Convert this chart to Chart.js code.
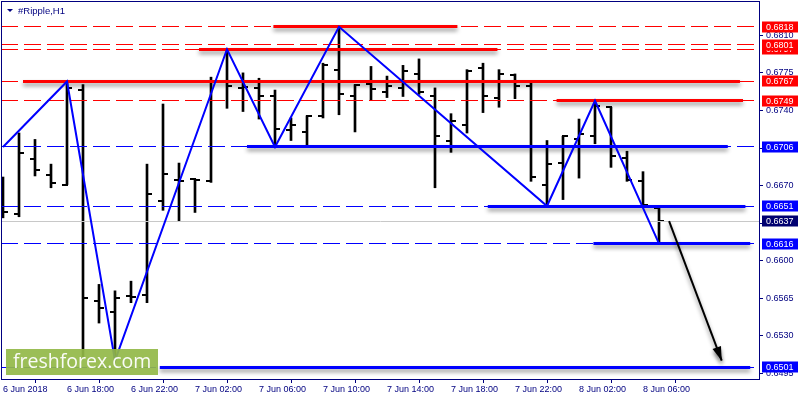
<!DOCTYPE html>
<html><head><meta charset="utf-8">
<script src="https://cdn.jsdelivr.net/npm/chart.js@4.4.1/dist/chart.umd.min.js"></script>
<style>html,body{margin:0;padding:0;background:#fff;}canvas{display:block;}</style>
</head><body>
<canvas id="c" width="800" height="400"></canvas>
<script>
// ---------- data ----------
const symbolTitle = '#Ripple,H1';
const timeLabels = [
 '6 Jun 14:00','6 Jun 15:00','6 Jun 16:00','6 Jun 17:00','6 Jun 18:00','6 Jun 19:00','6 Jun 20:00','6 Jun 21:00','6 Jun 22:00','6 Jun 23:00',
 '7 Jun 00:00','7 Jun 01:00','7 Jun 02:00','7 Jun 03:00','7 Jun 04:00','7 Jun 05:00','7 Jun 06:00','7 Jun 07:00','7 Jun 08:00','7 Jun 09:00',
 '7 Jun 10:00','7 Jun 11:00','7 Jun 12:00','7 Jun 13:00','7 Jun 14:00','7 Jun 15:00','7 Jun 16:00','7 Jun 17:00','7 Jun 18:00','7 Jun 19:00',
 '7 Jun 20:00','7 Jun 21:00','7 Jun 22:00','7 Jun 23:00',
 '8 Jun 00:00','8 Jun 01:00','8 Jun 02:00','8 Jun 03:00','8 Jun 04:00','8 Jun 05:00','8 Jun 06:00','8 Jun 07:00'
];
const axisTickIdx = [0,4,8,12,16,20,24,28,32,36,40];
const axisTickLabels = ['6 Jun 2018','6 Jun 18:00','6 Jun 22:00','7 Jun 02:00','7 Jun 06:00','7 Jun 10:00','7 Jun 14:00','7 Jun 18:00','7 Jun 22:00','8 Jun 02:00','8 Jun 06:00'];
const yTickValues = [0.6495,0.6530,0.6565,0.6600,0.6635,0.6670,0.6705,0.6740,0.6775,0.6810];

const opens  = [0.6646,0.6644,0.6695,0.6680,0.6671,0.6759,0.6563,0.6552,0.6567,0.6568,
                0.6656,0.6675,0.6676,0.6674,0.6767,0.6761,0.6761,0.6753,0.6722,0.6720,
                0.6735,0.6778,0.6753,0.6765,0.6757,0.6761,0.6774,0.6753,0.6712,0.6726,
                0.6780,0.6752,0.6773,0.6763,0.6671,0.6691,0.6713,0.6716,0.6743,0.6696,
                0.6674,0.6649];
const highs  = [0.6678,0.6719,0.6713,0.6690,0.6767,0.6764,0.6578,0.6572,0.6581,0.6690,
                0.6746,0.6691,0.6676,0.6771,0.6797,0.6775,0.6770,0.6759,0.6733,0.6735,
                0.6784,0.6818,0.6764,0.6781,0.6772,0.6782,0.6788,0.6761,0.6737,0.6778,
                0.6784,0.6778,0.6774,0.6768,0.6712,0.6716,0.6732,0.6749,0.6743,0.6702,
                0.6683,0.6649];
const lows   = [0.6640,0.6641,0.6679,0.6668,0.6671,0.6510,0.6542,0.6507,0.6561,0.6561,
                0.6647,0.6637,0.6645,0.6673,0.6742,0.6739,0.6732,0.6706,0.6712,0.6706,
                0.6733,0.6736,0.6720,0.6750,0.6752,0.6753,0.6755,0.6668,0.6701,0.6719,
                0.6738,0.6743,0.6751,0.6674,0.6651,0.6657,0.6677,0.6709,0.6687,0.6674,
                0.6651,0.6616];
const closes = [0.6645,0.6700,0.6685,0.6672,0.6761,0.6565,0.6556,0.6565,0.6566,0.6662,
                0.6681,0.6674,0.6675,0.6767,0.6763,0.6762,0.6753,0.6723,0.6726,0.6735,
                0.6782,0.6755,0.6764,0.6760,0.6763,0.6777,0.6757,0.6716,0.6730,0.6777,
                0.6753,0.6774,0.6763,0.6678,0.6690,0.6716,0.6718,0.6744,0.6698,0.6675,
                0.6652,0.6637];

const zigzagIdx   = [0,4,7,14,17,21,34,37,41];
const zigzagPrice = [0.6706,0.6767,0.6507,0.6797,0.6706,0.6818,0.6651,0.6749,0.6616];

const resistanceLevels = [0.6818,0.6801,0.6797,0.6767,0.6749];
const supportLevels    = [0.6706,0.6651,0.6616,0.6501];
const bidPrice = 0.6637;

const redSegLevel  = [0.6767,0.6797,0.6818,0.6749];
const redSegFrom   = [1.25,12.25,16.9,34.6];
const redSegTo     = [46.06,30.9,28.4,46.25];
const blueSegLevel = [0.6706,0.6651,0.6616,0.6501];
const blueSegFrom  = [15.25,30.3,36.9,9.8];
const blueSegTo    = [45.3,46.4,46.7,46.7];

const arrowIdx   = [41.63,44.92];
const arrowPrice = [0.6637,0.6507];

const labelLevels = [0.6818,0.6797,0.6801,0.6767,0.6749,0.6706,0.6651,0.6637,0.6616,0.6501];
const labelKinds  = ['r','r','r','r','r','b','b','k','b','b'];

// ---------- chart ----------
const X_MIN = -0.125, X_MAX = 47.3125;
const Y_MIN = 0.648989, Y_MAX = 0.684194;
const NAVY = '#000080';
const FONT = 'Liberation Sans';

function tickImg(side){
  const c=document.createElement('canvas'); c.width=10; c.height=2;
  const g=c.getContext('2d'); g.fillStyle='#000';
  if(side==='l') g.fillRect(0,0,6,2); else g.fillRect(4,0,6,2);
  return c;
}

const datasets = [];
const full = (y)=>[{x:X_MIN,y},{x:X_MAX,y}];
resistanceLevels.forEach(v=>datasets.push({type:'line',data:full(v),borderColor:'#ff0000',borderWidth:1,borderDash:[17,6],pointRadius:0,order:6,crisp:true}));
supportLevels.forEach(v=>datasets.push({type:'line',data:full(v),borderColor:'#0000ff',borderWidth:1,borderDash:[17,6],pointRadius:0,order:6,crisp:true}));
datasets.push({type:'line',data:full(bidPrice),borderColor:'#c8c8c8',borderWidth:1,pointRadius:0,order:6,crisp:true});

datasets.push({type:'bar',data:highs.map((h,i)=>({x:i,y:[lows[i],h]})),backgroundColor:'#000',borderWidth:0,barThickness:2,order:10});
datasets.push({type:'scatter',data:opens.map((o,i)=>({x:i,y:o})),pointStyle:tickImg('l'),pointRadius:5,order:9});
datasets.push({type:'scatter',data:closes.map((c,i)=>({x:i,y:c})),pointStyle:tickImg('r'),pointRadius:5,order:9});

redSegLevel.forEach((v,k)=>datasets.push({type:'line',data:[{x:redSegFrom[k],y:v},{x:redSegTo[k],y:v}],borderColor:'#ff0000',borderWidth:3,pointRadius:0,shadow:true,crisp:true,order:3}));
blueSegLevel.forEach((v,k)=>datasets.push({type:'line',data:[{x:blueSegFrom[k],y:v},{x:blueSegTo[k],y:v}],borderColor:'#0000ff',borderWidth:3,pointRadius:0,shadow:true,crisp:true,order:3}));

datasets.push({type:'line',data:zigzagIdx.map((x,k)=>({x,y:zigzagPrice[k]})),borderColor:'#0000ff',borderWidth:2,pointRadius:0,tension:0,order:2});
datasets.push({type:'line',data:arrowIdx.map((x,k)=>({x,y:arrowPrice[k]})),borderColor:'#000',borderWidth:2,pointRadius:0,shadow:true,arrowHead:true,order:1});

const fx = {
  id:'fx',
  beforeDatasetDraw(chart,args){
    const ds=chart.data.datasets[args.index]; const c=chart.ctx;
    c.save();
    if(ds.shadow){c.shadowColor='rgba(0,0,0,0.45)';c.shadowBlur=4;c.shadowOffsetX=0;c.shadowOffsetY=3;}
    else {c.shadowColor='rgba(0,0,0,0)';c.shadowBlur=0;c.shadowOffsetX=0;c.shadowOffsetY=0;}
    if(ds.crisp){ args.meta.data.forEach(p=>{ p.y = Math.floor(p.y)+0.5; }); }
  },
  afterDatasetDraw(chart,args){
    const ds=chart.data.datasets[args.index]; const c=chart.ctx;
    if(ds.arrowHead){
      const a=args.meta.data[0], b=args.meta.data[1];
      const ang=Math.atan2(b.y-a.y,b.x-a.x), L=14, W=4.5;
      const bx=b.x-L*Math.cos(ang), by=b.y-L*Math.sin(ang);
      c.beginPath(); c.moveTo(b.x,b.y);
      c.lineTo(bx+W*Math.sin(ang), by-W*Math.cos(ang));
      c.lineTo(bx-W*Math.sin(ang), by+W*Math.cos(ang));
      c.closePath(); c.fillStyle='#000'; c.fill();
    }
    c.restore();
  },
  afterDraw(chart){
    const c=chart.ctx, ca=chart.chartArea, ys=chart.scales.y;
    c.save();
    c.shadowColor='rgba(0,0,0,0)'; c.shadowBlur=0;
    // frame
    c.strokeStyle=NAVY; c.lineWidth=1;
    c.strokeRect(ca.left+0.5, ca.top+0.5, ca.right-ca.left-1, ca.bottom-ca.top);
    // watermark
    c.fillStyle='rgba(146,184,72,0.92)'; c.fillRect(6,349,152,26);
    c.fillStyle='rgba(255,255,255,0.95)'; c.font='19.5px "Open Sans"'; c.textBaseline='alphabetic'; c.textAlign='left';
    c.fillText('freshforex.com',13,368);
    // title
    c.fillStyle=NAVY; c.beginPath(); c.moveTo(7,9); c.lineTo(13,9); c.lineTo(10,12); c.closePath(); c.fill();
    c.font='9.5px "'+FONT+'"'; c.textBaseline='middle'; c.fillText(symbolTitle,18,11);
    // price labels
    labelLevels.forEach((v,k)=>{
      const y=Math.round(ys.getPixelForValue(v));
      c.fillStyle = labelKinds[k]==='r' ? '#ff0000' : labelKinds[k]==='b' ? '#0000ff' : '#000070';
      c.fillRect(ca.right+2, y-5.5, 36, 11);
      c.fillStyle='#fff'; c.font='9px "'+FONT+'"'; c.textBaseline='middle'; c.textAlign='left';
      c.fillText(v.toFixed(4), ca.right+6, y+0.5);
    });
    c.restore();
  }
};

new Chart(document.getElementById('c'), {
  type:'line',
  data:{datasets},
  options:{
    responsive:false, animation:false, devicePixelRatio:1, events:[],
    layout:{autoPadding:false,padding:{left:1,top:1,right:0,bottom:0}},
    plugins:{legend:{display:false},tooltip:{enabled:false},title:{display:false}},
    scales:{
      x:{type:'linear',position:'bottom',min:X_MIN,max:X_MAX,offset:false,
         afterBuildTicks:(s)=>{s.ticks=axisTickIdx.map(v=>({value:v}));},
         afterFit:(s)=>{s.height=21;s.paddingLeft=0;s.paddingRight=0;},
         grid:{drawOnChartArea:false,drawTicks:true,tickLength:4,color:NAVY},
         border:{display:false},
         ticks:{align:'start',autoSkip:false,maxRotation:0,minRotation:0,padding:1,color:NAVY,font:{family:FONT,size:9},
           callback:(v)=>{const k=axisTickIdx.indexOf(v);return k>=0?axisTickLabels[k]:'';}}},
      y:{type:'linear',position:'right',min:Y_MIN,max:Y_MAX,
         afterBuildTicks:(s)=>{s.ticks=yTickValues.map(v=>({value:v}));},
         afterFit:(s)=>{s.width=40;s.paddingTop=0;s.paddingBottom=0;},
         grid:{drawOnChartArea:false,drawTicks:true,tickLength:3,color:NAVY},
         border:{display:false},
         ticks:{padding:3,color:NAVY,font:{family:FONT,size:9},callback:(v)=>Number(v).toFixed(4)}}
    }
  },
  plugins:[fx]
});
</script>
</body></html>
